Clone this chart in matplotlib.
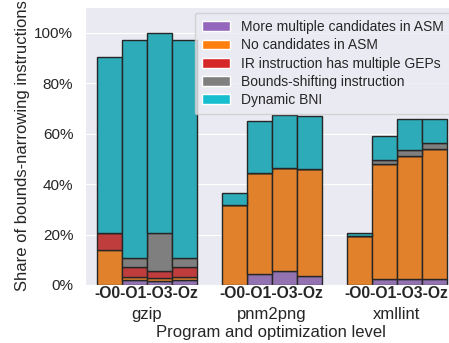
import colorsys

import matplotlib
matplotlib.use("Agg")
import matplotlib.pyplot as plt
import matplotlib.colors as mcolors
from matplotlib.patches import Patch
from matplotlib.ticker import PercentFormatter
import numpy as np
import seaborn as sns

programs = ["gzip", "pnm2png", "xmllint"]
opt_levels = ["-O0", "-O1", "-O3", "-Oz"]

categories = [
    "More multiple candidates in ASM",
    "No candidates in ASM",
    "IR instruction has multiple GEPs",
    "Bounds-shifting instruction",
    "Dynamic BNI",
]
colors = ["tab:purple", "tab:orange", "tab:red", "tab:gray", "tab:cyan"]

# shares per bar, order: gzip O0..Oz, pnm2png O0..Oz, xmllint O0..Oz
more_multiple = [0.000, 0.018, 0.017, 0.018, 0.000, 0.045, 0.056, 0.037, 0.000, 0.022, 0.022, 0.022]
no_candidates = [0.140, 0.012, 0.011, 0.012, 0.316, 0.400, 0.410, 0.425, 0.195, 0.460, 0.490, 0.516]
multiple_geps = [0.065, 0.042, 0.029, 0.042, 0.000, 0.000, 0.000, 0.000, 0.000, 0.000, 0.000, 0.000]
bounds_shift = [0.000, 0.035, 0.151, 0.035, 0.000, 0.000, 0.000, 0.000, 0.000, 0.013, 0.025, 0.024]
dynamic_bni = [0.700, 0.865, 0.790, 0.865, 0.048, 0.206, 0.210, 0.210, 0.011, 0.095, 0.122, 0.098]

series = [more_multiple, no_candidates, multiple_geps, bounds_shift, dynamic_bni]


def desaturate(color, prop=0.75):
    r, g, b = mcolors.to_rgb(color)
    h, l, s = colorsys.rgb_to_hls(r, g, b)
    return colorsys.hls_to_rgb(h, l, s * prop)


sns.set_style("darkgrid")
plt.rcParams["font.family"] = ["Liberation Sans", "DejaVu Sans"]

fig = plt.figure(figsize=(4.49, 3.43), dpi=100)
# the axes runs a little past the right edge of the picture, as in the original
ax = fig.add_axes([85 / 449, 1 - 285 / 343, 372 / 449, 278 / 343])

# bar positions: 4 bars per program, one empty slot between programs
xs = np.array([5 * g + j for g in range(len(programs)) for j in range(len(opt_levels))])

bottom = np.zeros(len(xs))
for vals, col in zip(series, colors):
    vals = np.array(vals)
    ax.bar(xs, vals, width=1.0, bottom=bottom, color=desaturate(col),
           edgecolor="0.15", linewidth=1.0)
    bottom += vals

ax.set_xlim(-0.97, 13.91)
ax.set_ylim(0, 1.103)
ax.yaxis.set_major_formatter(PercentFormatter(1.0, decimals=0))
ax.set_yticks(np.arange(0, 1.01, 0.2))

# one row of optimization levels per program, program name underneath
centers = [5 * g + 1.5 for g in range(len(programs))]
ax.set_xticks(centers)
ax.set_xticklabels(["".join(opt_levels)] * len(programs), fontsize=11.3,
                   fontweight="bold")
ax.set_xticks([c + 0.001 for c in centers], minor=True)
ax.set_xticklabels(programs, minor=True, fontsize=12)
ax.tick_params(axis="x", which="major", length=0, pad=1)
ax.tick_params(axis="x", which="minor", length=0, pad=16)
ax.tick_params(axis="y", length=0, labelsize=11, pad=8.4)
ax.grid(False, axis="x", which="both")

ax.set_xlabel("Program and optimization level", fontsize=12, labelpad=2)
ax.set_ylabel("Share of bounds-narrowing instructions", fontsize=12, labelpad=3)

handles = [Patch(facecolor=c, label=lab) for c, lab in zip(colors, categories)]
ax.legend(handles=handles, loc="upper right", fontsize=10, labelspacing=0.3,
          borderaxespad=0.4, borderpad=0.55)

fig.savefig("out.png", dpi=100)
